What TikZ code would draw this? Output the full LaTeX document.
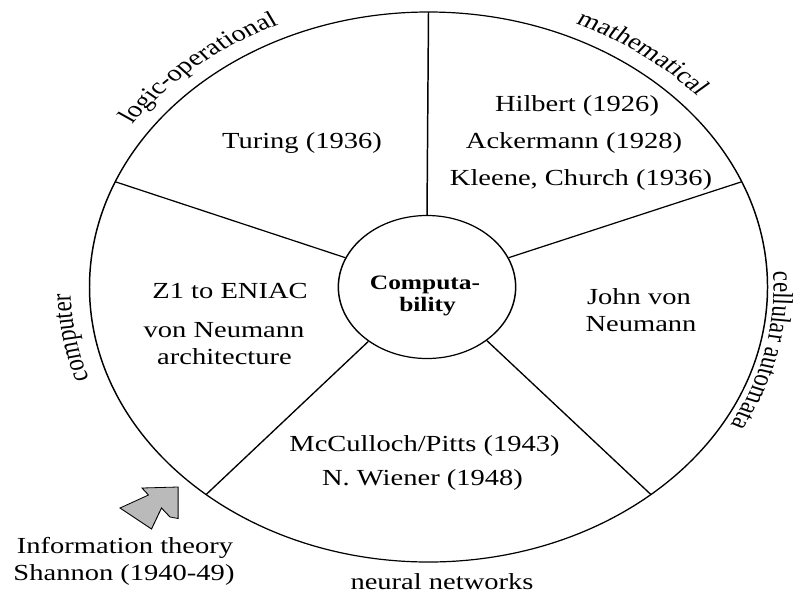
\documentclass[tikz,border=0pt]{standalone}
\usepackage{fontspec}
\setmainfont{Liberation Serif}
\usetikzlibrary{decorations.text,calc}
\newcommand\myreg{\fontsize{23}{27}\selectfont}
\newcommand\mybold{\fontsize{20.5}{24}\selectfont\bfseries}
\begin{document}
\begin{tikzpicture}[
  ring/.style={draw, line width=1.2pt},
  spoke/.style={draw, line width=1.2pt},
  txt/.style={anchor=base, font=\myreg, inner sep=0pt},
  core/.style={circle, draw, line width=1.2pt, minimum size=143pt, inner sep=0pt},
  coretxt/.style={anchor=base, font=\mybold, inner sep=0pt},
  arclabel/.style={decorate, decoration={text along path, text align=center, text={|\myreg|#1}}},
  shannonarrow/.style={draw, line width=0.8pt, fill=black!27, line join=miter}
]
\useasboundingbox (0pt,0pt) rectangle (797pt,-595pt);
\begin{scope}[transform canvas={xscale=1.24}, x=0.806452pt, y=1pt]
  \coordinate (O) at (428.5,-287);
  \draw[ring] (O) ellipse [x radius=339, y radius=275];
  \node[core] (comp) at (427,-287) {};
  \coordinate (otop) at ($(O)+(90:339 and 275)$);
  \coordinate (oul) at ($(O)+(157.5:339 and 275)$);
  \coordinate (our) at ($(O)+(22.5:339 and 275)$);
  \coordinate (oll) at ($(O)+(229:339 and 275)$);
  \coordinate (olr) at ($(O)+(311:339 and 275)$);
  \draw[spoke] (comp.90) -- (otop);
  \draw[spoke] (comp.156) -- (oul);
  \draw[spoke] (comp.24) -- (our);
  \draw[spoke] (comp.229) -- (oll);
  \draw[spoke] (comp.312) -- (olr);
  % centre text
  \node[coretxt] (c1) at (425,-289) {Computa-};
  \node[coretxt] (c2) at (427.5,-311) {bility};
  % sector texts
  \node[txt] (tur) at (302,-148) {Turing (1936)};
  \node[txt] (hil) at (577,-111) {Hilbert (1926)};
  \node[txt] (ack) at (574,-148) {Ackermann (1928)};
  \node[txt] (kle) at (581,-185) {Kleene, Church (1936)};
  \node[txt] (z1) at (230,-298) {Z1 to ENIAC};
  \node[txt] (vn) at (224,-337) {von Neumann};
  \node[txt] (arch) at (224.5,-364) {architecture};
  \node[txt] (jvn1) at (639,-304) {John von};
  \node[txt] (jvn2) at (641,-331) {Neumann};
  \node[txt] (mcc) at (424.5,-451) {McCulloch/Pitts (1943)};
  \node[txt] (wie) at (422.5,-485) {N. Wiener (1948)};
  % outside labels
  \path[arclabel=logic-operational] ($(O)+(160:358 and 289)$) arc[start angle=160, end angle=100.5, x radius=358, y radius=289];
  \path[arclabel=mathematical] ($(O)+(85:358 and 289)$) arc[start angle=85, end angle=22, x radius=358, y radius=289];
  \path[arclabel=cellular automata] ($(O)+(19:345 and 286)$) arc[start angle=19, end angle=-45, x radius=345, y radius=286];
  \path[arclabel=computer] ($(O)+(220:358 and 289)$) arc[start angle=220, end angle=160, x radius=358, y radius=289];
  \node[txt] (nn) at (442,-589) {neural networks};
  % information theory
  \draw[shannonarrow] (178,-487) -- (142,-488) -- (148.5,-495) -- (120,-508) -- (151.5,-529) -- (161.5,-508) -- (170,-517) -- (178,-518.5) -- cycle;
  \node[txt] (inf) at (125,-553) {Information theory};
  \node[txt] (sha) at (124,-580) {Shannon (1940-49)};
\end{scope}
\end{tikzpicture}
\end{document}
